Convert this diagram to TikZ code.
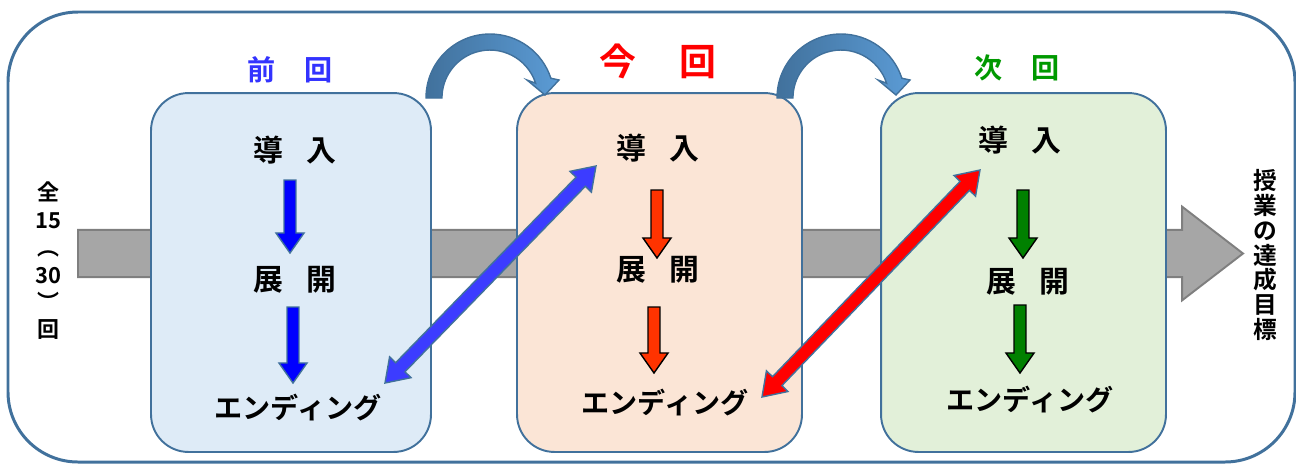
\documentclass[tikz,border=0pt]{standalone}
\usepackage{fontspec}
\setmainfont{Noto Sans CJK JP}[BoldFont={Noto Sans CJK JP Bold}]
\usetikzlibrary{calc}

\definecolor{boxline}{HTML}{41719C}
\definecolor{prevfill}{HTML}{DEEBF7}
\definecolor{curfill}{HTML}{FBE5D6}
\definecolor{nextfill}{HTML}{E2F0D9}
\definecolor{prevblue}{HTML}{3333FF}
\definecolor{arrblue}{HTML}{0000FF}
\definecolor{diagblue}{HTML}{3C3CFF}
\definecolor{arrred}{HTML}{FF3300}
\definecolor{arrgreen}{HTML}{008000}
\definecolor{nextgreen}{HTML}{009900}
\definecolor{flowgray}{HTML}{A6A6A6}
\definecolor{flowline}{HTML}{7F7F7F}
\definecolor{arcdark}{HTML}{41719C}
\definecolor{arclight}{HTML}{5B9BD5}

% point in the frame of the arrow (origin at start, x along the arrow)
\newcommand\blkpt[2]{([shift={(\p1)},rotate=\n1]#1,#2)}

\tikzset{
  arr width/.store in=\arrW, arr width=3.4pt,
  head width/.store in=\headW, head width=8pt,
  head len/.store in=\headL, head len=11.4pt,
  blockto/.style={to path={let \p1=(\tikztostart), \p2=(\tikztotarget),
      \n1={atan2(\y2-\y1,\x2-\x1)}, \n2={veclen(\x2-\x1,\y2-\y1)} in
      \blkpt{0pt}{-\arrW} -- \blkpt{\n2-\headL}{-\arrW} -- \blkpt{\n2-\headL}{-\headW}
      -- \blkpt{\n2+0pt}{0pt} -- \blkpt{\n2-\headL}{\headW} -- \blkpt{\n2-\headL}{\arrW}
      -- \blkpt{0pt}{\arrW} -- cycle}},
  dblto/.style={to path={let \p1=(\tikztostart), \p2=(\tikztotarget),
      \n1={atan2(\y2-\y1,\x2-\x1)}, \n2={veclen(\x2-\x1,\y2-\y1)} in
      \blkpt{0pt}{0pt} -- \blkpt{\headL}{-\headW} -- \blkpt{\headL}{-\arrW}
      -- \blkpt{\n2-\headL}{-\arrW} -- \blkpt{\n2-\headL}{-\headW}
      -- \blkpt{\n2+0pt}{0pt} -- \blkpt{\n2-\headL}{\headW} -- \blkpt{\n2-\headL}{\arrW}
      -- \blkpt{\headL}{\arrW} -- \blkpt{\headL}{\headW} -- cycle}}
}

\begin{document}
\begin{tikzpicture}[
      x=0.02cm, y=-0.02cm,
      mybox/.style={
         rectangle,
         draw=boxline,
         line width=1.1pt,
         rounded corners=0.75cm,
         minimum height=7.18cm},
      mytext/.style={font=\fontsize{17pt}{20pt}\selectfont\bfseries, inner sep=0pt},
      endtext/.style={font=\fontsize{16pt}{19pt}\selectfont\bfseries, inner sep=0pt},
      myhead/.style={font=\fontsize{16pt}{19pt}\selectfont\bfseries, inner sep=0pt},
      bluearr/.style={fill=arrblue, draw=boxline, line width=0.8pt},
      redarr/.style={fill=arrred, draw=black, line width=0.8pt},
      greenarr/.style={fill=arrgreen, draw=black, line width=0.8pt},
      diagarr/.style={draw=boxline, line width=0.8pt, arr width=3.7pt, head width=8.5pt, head len=12.5pt},
      turnarr/.style={left color=arcdark, right color=arclight, draw=boxline, line width=0.8pt}
      ]
      \useasboundingbox (0,0) rectangle (1296,464);
      \draw[boxline, line width=1.7pt, rounded corners=1.4cm] (8,12) rectangle (1295,462);

      % the course, from the first lesson to the goal
      \node[align=center, inner sep=0pt, font=\fontsize{12.5pt}{15.6pt}\selectfont\bfseries]
         (course) at (48,261) {全\\15\\︵\\30\\︶\\回};
      \node[align=center, inner sep=0pt, font=\fontsize{13.5pt}{14.2pt}\selectfont\bfseries]
         (goal) at (1265,255) {授\\業\\の\\達\\成\\目\\標};
      \coordinate (gstart) at (78,253.5);
      \coordinate (gend) at (1243,253.5);
      \draw[fill=flowgray, draw=flowline, line width=1.1pt,
            arr width=13.4pt, head width=26.7pt, head len=34.7pt] (gstart) to[blockto] (gend);

      \node[mybox, fill=prevfill, minimum width=5.6cm] (prev) at (291,272.5) {};
      \node[mybox, fill=curfill, minimum width=5.7cm] (cur) at (659.5,272.5) {};
      \node[mybox, fill=nextfill, minimum width=5.7cm] (next) at (1023.5,272.5) {};

      \node[myhead, text=prevblue] (prevhd) at (290,70) {前\hspace{1em}回};
      \node[myhead, text=red, font=\fontsize{21pt}{24pt}\selectfont\bfseries] (curhd) at (658,61) {今\hspace{1.15em}回};
      \node[myhead, text=nextgreen] (nexthd) at (1017,68) {次\hspace{1.05em}回};

      \node[mytext] (intro1) at (295,150) {導\hspace{0.8em}入};
      \node[mytext] (dev1) at (295,280) {展\hspace{0.8em}開};
      \node[endtext] (end1) at (298,408) {エンディング};
      \node[mytext] (intro2) at (658,148) {導\hspace{0.8em}入};
      \node[mytext] (dev2) at (658,270) {展\hspace{0.8em}開};
      \node[endtext] (end2) at (665,403) {エンディング};
      \node[mytext] (intro3) at (1020,140) {導\hspace{0.8em}入};
      \node[mytext] (dev3) at (1028,282) {展\hspace{0.8em}開};
      \node[endtext] (end3) at (1030,400) {エンディング};

      % turning arrows over the boxes
      \foreach \cx in {490,841}
        \draw[turnarr] (\cx-64,98) arc[start angle=180, end angle=342, radius=64]
           -- (\cx+69,80) -- (\cx+55,95) -- (\cx+37,80) -- (\cx+45.6,83.2)
           arc[start angle=342, end angle=180, radius=48] -- cycle;

    \foreach \a/\da/\sa/\b/\db/\sb/\st in {% start/dx/dy/end/dx/dy/style
      intro1/-5/30/dev1/-5/-27/bluearr,
      dev1/-2/27/end1/-5/-25/bluearr,
      intro2/-1/42/dev2/-1/-12/redarr,
      dev2/-4/37/end2/-11/-30/redarr,
      intro3/3/50/dev3/-5/-24/greenarr,
      dev3/-8/23/end3/-10/-27/greenarr}
       \draw[\st] ($(\a)+(\da,\sa)$) to[blockto] ($(\b)+(\db,\sb)$);

      \draw[diagarr, fill=diagblue] ($(end1)+(87,-25)$) to[dblto] ($(intro2)+(-62,18)$);
      \draw[diagarr, fill=red] ($(end2)+(97,-6)$) to[dblto] ($(intro3)+(-40,30)$);
\end{tikzpicture}
\end{document}
